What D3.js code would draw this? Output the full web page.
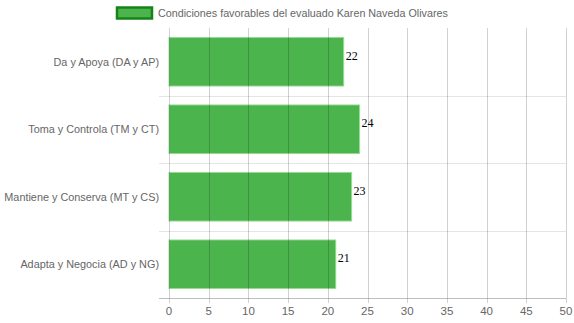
<!DOCTYPE html>
<html>
<head>
<meta charset="utf-8">
<script src="https://cdn.jsdelivr.net/npm/d3@7"></script>
<style>
  html, body { margin: 0; padding: 0; background: #fff; }
  svg { display: block; }
</style>
</head>
<body>
<svg id="chart" width="574" height="323"></svg>
<script>
const categories = [
  "Da y Apoya (DA y AP)",
  "Toma y Controla (TM y CT)",
  "Mantiene y Conserva (MT y CS)",
  "Adapta y Negocia (AD y NG)"
];
const values = [22, 24, 23, 21];
const xTicks = [0, 5, 10, 15, 20, 25, 30, 35, 40, 45, 50];
const seriesName = "Condiciones favorables del evaluado Karen Naveda Olivares";

(function () {
  const svg = d3.select("#chart");
  const font = "Arial, 'Liberation Sans', Helvetica, sans-serif";
  const plotLeft = 169, plotRight = 566, plotTop = 28, plotBottom = 298;

  const x = d3.scaleLinear().domain([0, 50]).range([plotLeft, plotRight]);
  const y = d3.scaleBand().domain(categories).range([plotTop, plotBottom]);
  const barH = y.bandwidth() * 0.72;

  // horizontal grid at category boundaries
  const bounds = categories.slice(1).map(c => y(c));
  svg.append("g").selectAll("line").data(bounds).join("line")
    .attr("x1", plotLeft - 10).attr("x2", plotRight)
    .attr("y1", d => Math.round(d) + 0.5).attr("y2", d => Math.round(d) + 0.5)
    .attr("stroke", "rgba(0,0,0,0.1)").attr("stroke-width", 1);

  // bars
  svg.append("g").selectAll("rect").data(values).join("rect")
    .attr("x", x(0))
    .attr("y", (d, i) => y(categories[i]) + (y.bandwidth() - barH) / 2)
    .attr("width", d => x(d) - x(0))
    .attr("height", barH)
    .attr("fill", "#4cb44c")
    .attr("stroke", "rgba(150,220,150,0.9)")
    .attr("stroke-width", 1);

  // vertical grid (drawn over bars)
  svg.append("g").selectAll("line").data(xTicks).join("line")
    .attr("x1", d => Math.round(x(d)) + 0.5).attr("x2", d => Math.round(x(d)) + 0.5)
    .attr("y1", plotTop).attr("y2", plotBottom + 5)
    .attr("stroke", "rgba(0,0,0,0.18)").attr("stroke-width", 1);

  // x axis line
  svg.append("line")
    .attr("x1", plotLeft - 10).attr("x2", plotRight)
    .attr("y1", plotBottom + 0.5).attr("y2", plotBottom + 0.5)
    .attr("stroke", "rgba(0,0,0,0.25)");

  // x tick labels
  svg.append("g").selectAll("text").data(xTicks).join("text")
    .attr("x", d => x(d)).attr("y", 315)
    .attr("text-anchor", "middle")
    .attr("font-family", font).attr("font-size", 11.5).attr("fill", "#666")
    .text(d => d);

  // category labels
  svg.append("g").selectAll("text").data(categories).join("text")
    .attr("x", plotLeft - 10).attr("y", d => y(d) + y.bandwidth() / 2 + 4)
    .attr("text-anchor", "end")
    .attr("font-family", font).attr("font-size", 10.85).attr("fill", "#666")
    .text(d => d);

  // value labels
  svg.append("g").selectAll("text").data(values).join("text")
    .attr("x", d => x(d) + 2)
    .attr("y", (d, i) => y(categories[i]) + y.bandwidth() / 2 - 2)
    .attr("font-family", "'Liberation Serif', 'Times New Roman', serif")
    .attr("font-size", 12).attr("fill", "#000")
    .text(d => d);

  // legend
  svg.append("rect")
    .attr("x", 117).attr("y", 7.5).attr("width", 35).attr("height", 11)
    .attr("fill", "#4cb44c").attr("stroke", "#14841a").attr("stroke-width", 2.5);
  svg.append("text")
    .attr("x", 158).attr("y", 17)
    .attr("font-family", font).attr("font-size", 10.75).attr("fill", "#666")
    .text(seriesName);
})();
</script>
</body>
</html>
